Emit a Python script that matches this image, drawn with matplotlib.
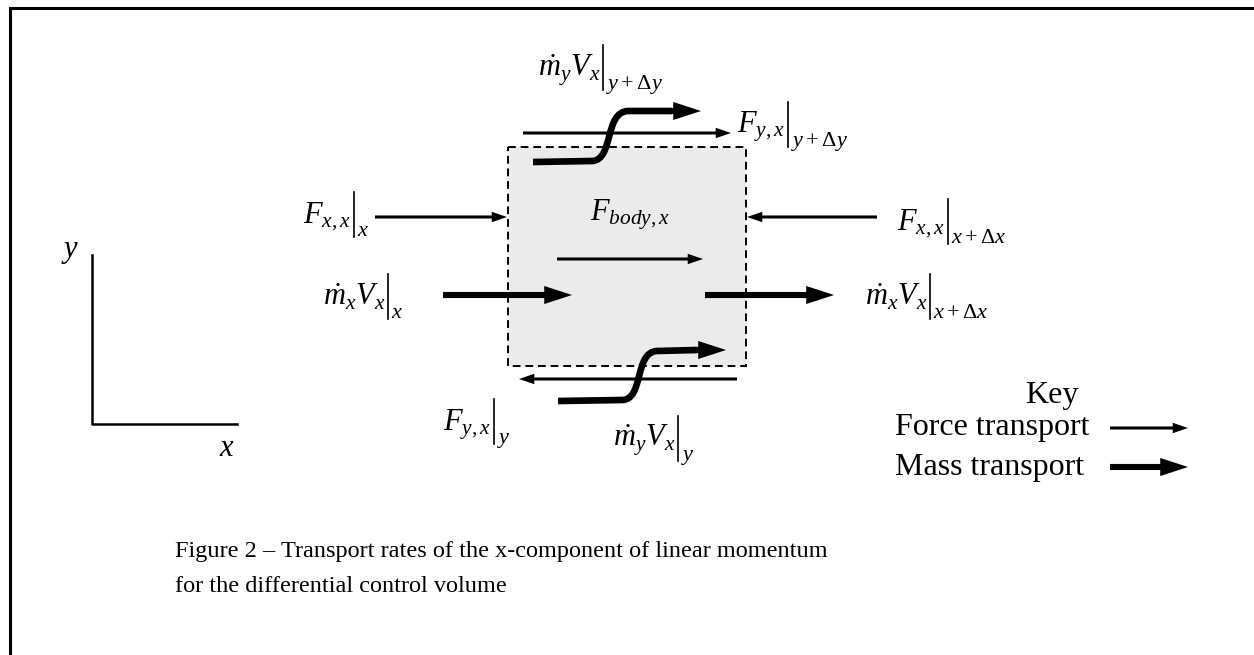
import matplotlib.pyplot as plt
from matplotlib.patches import Rectangle, FancyArrowPatch, ArrowStyle, PathPatch
from matplotlib.path import Path

plt.rcParams['font.family'] = ['Liberation Serif', 'DejaVu Serif']
plt.rcParams['mathtext.fontset'] = 'custom'
plt.rcParams['mathtext.rm'] = 'Liberation Serif'
plt.rcParams['mathtext.it'] = 'Liberation Serif:italic'
plt.rcParams['mathtext.bf'] = 'Liberation Serif:bold'

# --- diagram content (pixel coordinates, y downwards) ---
box = (508, 147, 746, 366)  # control volume x0, y0, x1, y1

force_arrows = [  # (x_start, y_start, x_end, y_end)
    (523, 133, 731, 133),   # top shear
    (375, 217, 507, 217),   # left normal
    (877, 217, 747, 217),   # right normal
    (557, 259, 703, 259),   # body force
    (737, 379, 519, 379),   # bottom shear
]
mass_arrows = [
    (443, 295, 572, 295),
    (705, 295, 834, 295),
]
mass_curves = [  # S-shaped mass transport across top and bottom faces
    [(533, 162), (592, 161), (614, 160), (604, 112), (628, 111), (672, 111)],
    [(558, 401), (622, 400), (644, 400), (634, 352), (657, 351), (697, 350)],
]
curve_tips = [(701, 111), (726, 350)]

# evaluated quantities: (x, baseline, main term, evaluation point)
terms = [
    (538, 76, r'$\dot{m}_{y}V_{x}$', r'$y+\Delta y$'),
    (737, 133, r'$F_{y,x}$', r'$y+\Delta y$'),
    (303, 223, r'$F_{x,x}$', r'$x$'),
    (897, 230, r'$F_{x,x}$', r'$x+\Delta x$'),
    (323, 305, r'$\dot{m}_{x}V_{x}$', r'$x$'),
    (865, 305, r'$\dot{m}_{x}V_{x}$', r'$x+\Delta x$'),
    (443, 430, r'$F_{y,x}$', r'$y$'),
    (613, 447, r'$\dot{m}_{y}V_{x}$', r'$y$'),
]
body_label = (590, 220, r'$F_{body,x}$')

key_items = ['Force transport', 'Mass transport']
caption = ['Figure 2 \u2013 Transport rates of the x-component of linear momentum',
           'for the differential control volume']

fig = plt.figure(figsize=(12.54, 6.55), dpi=100)
ax = fig.add_axes([0, 0, 1, 1])
ax.set_xlim(0, 1254)
ax.set_ylim(655, 0)
ax.axis('off')
renderer = fig.canvas.get_renderer()

# outer frame (only top and left edges visible)
ax.plot([10, 10, 1260], [670, 8, 8], color='black', lw=2.2, solid_joinstyle='miter')

# control volume
x0, y0, x1, y1 = box
ax.add_patch(Rectangle((x0, y0), x1 - x0, y1 - y0, facecolor='#ebebeb',
                       edgecolor='black', lw=1.4, ls=(0, (4, 2.5)), zorder=1))

thin = ArrowStyle('simple', head_length=11, head_width=7.5, tail_width=2.2)
thick = ArrowStyle('simple', head_length=20, head_width=13, tail_width=4.4)


def arrow(p0, p1, style):
    ax.add_patch(FancyArrowPatch(p0, p1, arrowstyle=style, mutation_scale=1, lw=0,
                                 color='black', shrinkA=0, shrinkB=0, zorder=3))


for xs, ys, xe, ye in force_arrows:
    arrow((xs, ys), (xe, ye), thin)
for xs, ys, xe, ye in mass_arrows:
    arrow((xs, ys), (xe, ye), thick)
for pts, tip in zip(mass_curves, curve_tips):
    codes = [Path.MOVETO, Path.LINETO, Path.CURVE4, Path.CURVE4, Path.CURVE4, Path.LINETO]
    ax.add_patch(PathPatch(Path(pts, codes), fill=False, lw=4.8, edgecolor='black',
                           capstyle='butt', joinstyle='round', zorder=3))
    arrow((pts[-1][0] - 2, pts[-1][1]), tip, thick)

# labels with an evaluation bar  A|_b
for x, y, main, sub in terms:
    t = ax.text(x, y, main, fontsize=22, ha='left', va='baseline')
    xb = t.get_window_extent(renderer).x1 + 3
    ax.plot([xb, xb], [y - 31, y + 14], color='black', lw=1.2)
    ax.text(xb + 3, y + 13, sub, fontsize=16, ha='left', va='baseline')

ax.text(body_label[0], body_label[1], body_label[2], fontsize=22, ha='left', va='baseline')

# coordinate axes sketch
ax.plot([92, 92, 237], [255, 424, 424], color='black', lw=1.8)
ax.text(70, 252, r'$y$', fontsize=22, ha='center', va='center')
ax.text(227, 449, r'$x$', fontsize=22, ha='center', va='center')

# key
ax.text(1052, 395, 'Key', fontsize=23, ha='center', va='center')
for i, name in enumerate(key_items):
    yy = 428 + i * 39
    ax.text(895, yy, name, fontsize=23, ha='left', va='center')
    arrow((1110, yy), (1188, yy), thin if i == 0 else thick)

for i, line in enumerate(caption):
    ax.text(175, 552 + i * 34, line, fontsize=17.5, ha='left', va='center')

fig.savefig('out.png', dpi=100)
